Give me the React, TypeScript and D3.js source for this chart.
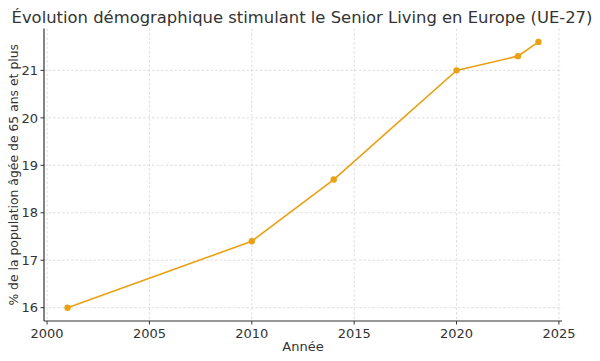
import React from "react";
import * as d3 from "d3";

const years = [2001, 2010, 2014, 2020, 2023, 2024];
const shares = [16.0, 17.4, 18.7, 21.0, 21.3, 21.6];
const xTicks = [2000, 2005, 2010, 2015, 2020, 2025];
const yTicks = [16, 17, 18, 19, 20, 21];
const title = "Évolution démographique stimulant le Senior Living en Europe (UE-27)";
const xLabel = "Année";
const yLabel = "% de la population âgée de 65 ans et plus";

const W = 600, H = 361;
const m = { left: 44, right: 562, top: 28.6, bottom: 321 };
const font = "DejaVu Sans, sans-serif";
const textColor = "#333333";
const lineColor = "#E9A012";

export default function App() {
  const x = d3.scaleLinear().domain([1999.85, 2025.15]).range([m.left, m.right]);
  const y = d3.scaleLinear().domain([15.72, 21.88]).range([m.bottom, m.top]);
  const pts = years.map((yr, i) => [yr, shares[i]] as [number, number]);
  const line = d3.line<[number, number]>().x(d => x(d[0])).y(d => y(d[1]));
  return (
    <svg width={W} height={H} style={{ position: "absolute", left: 0, top: 0, background: "#fff" }}>
      <rect width={W} height={H} fill="#fff" />
      {xTicks.map(t => (
        <line key={"gx" + t} x1={x(t)} x2={x(t)} y1={m.top} y2={m.bottom} stroke="#d0d0d0" strokeWidth={0.7} strokeDasharray="2.5,2" />
      ))}
      {yTicks.map(t => (
        <line key={"gy" + t} x1={m.left} x2={m.right} y1={y(t)} y2={y(t)} stroke="#d0d0d0" strokeWidth={0.7} strokeDasharray="2.5,2" />
      ))}
      <line x1={m.left} x2={m.left} y1={m.top} y2={m.bottom} stroke="#333" strokeWidth={1.2} />
      <line x1={m.left} x2={m.right} y1={m.bottom} y2={m.bottom} stroke="#333" strokeWidth={1.2} />
      {xTicks.map(t => (
        <g key={"xt" + t}>
          <line x1={x(t)} x2={x(t)} y1={m.bottom} y2={m.bottom + 3.5} stroke="#333" strokeWidth={1} />
          <text x={x(t)} y={m.bottom + 17} textAnchor="middle" fontFamily={font} fontSize={13} fill={textColor}>{t}</text>
        </g>
      ))}
      {yTicks.map(t => (
        <g key={"yt" + t}>
          <line x1={m.left - 3.5} x2={m.left} y1={y(t)} y2={y(t)} stroke="#333" strokeWidth={1} />
          <text x={m.left - 6} y={y(t)} dy="0.36em" textAnchor="end" fontFamily={font} fontSize={13} fill={textColor}>{t}</text>
        </g>
      ))}
      <path d={line(pts) || ""} fill="none" stroke={lineColor} strokeWidth={1.6} />
      {pts.map((p, i) => (
        <circle key={i} cx={x(p[0])} cy={y(p[1])} r={3.2} fill={lineColor} />
      ))}
      <text x={(m.left + m.right) / 2} y={351} textAnchor="middle" fontFamily={font} fontSize={13} fill={textColor}>{xLabel}</text>
      <text transform={`translate(18,${(m.top + m.bottom) / 2}) rotate(-90)`} textAnchor="middle" fontFamily={font} fontSize={12.4} fill={textColor}>{yLabel}</text>
      <text x={302} y={23} textAnchor="middle" fontFamily={font} fontSize={16.4} fill={textColor}>{title}</text>
    </svg>
  );
}
